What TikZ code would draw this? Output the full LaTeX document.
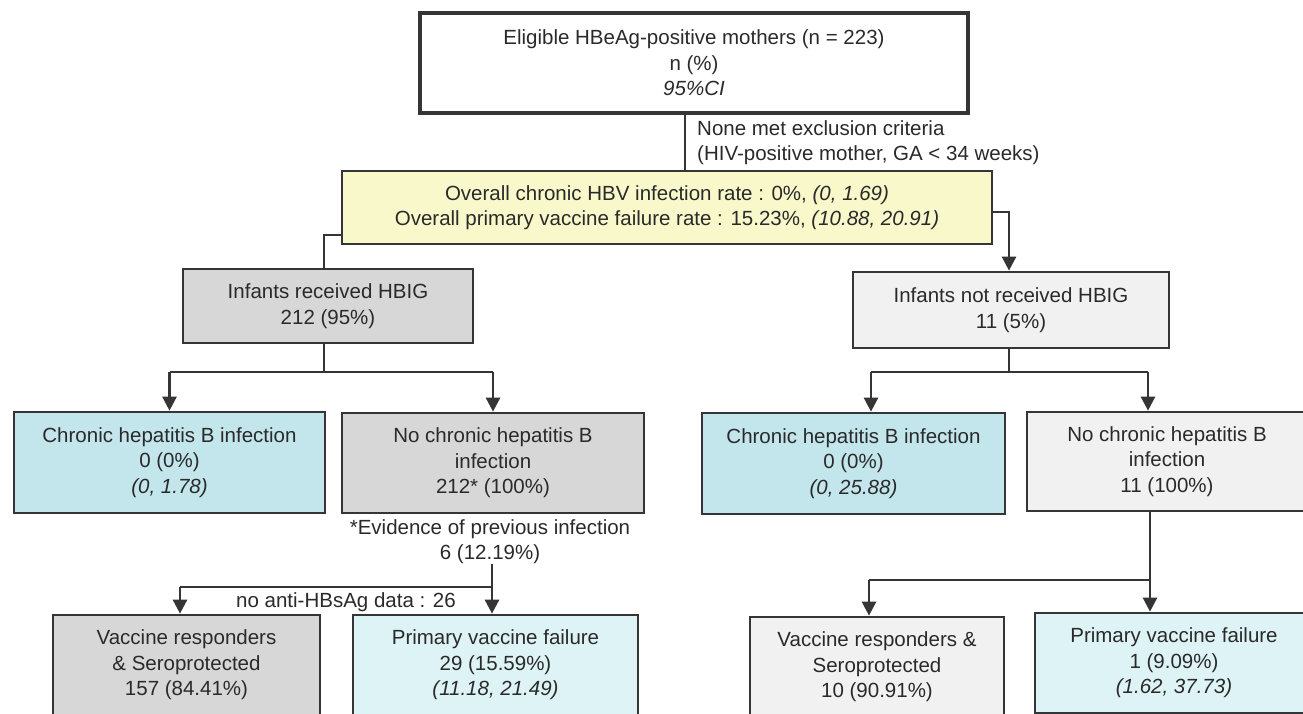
\documentclass[tikz,border=0pt]{standalone}
\usepackage{fontspec}
\setmainfont{Liberation Sans}
\usetikzlibrary{arrows.meta}
\definecolor{bordc}{HTML}{353535}
\definecolor{txtc}{HTML}{2A2A2A}
\definecolor{grayc}{HTML}{D7D7D7}
\definecolor{lgrayc}{HTML}{F1F1F1}
\definecolor{bluec}{HTML}{C2E6EC}
\definecolor{cyanc}{HTML}{DDF3F5}
\definecolor{yelc}{HTML}{F8F8CA}
\begin{document}
\begin{tikzpicture}[x=1pt,y=-1pt,
  font=\fontsize{20.5}{25.5}\selectfont,
  box/.style={draw=bordc, line width=2.7pt, align=center, inner sep=0pt, text=txtc},
  conn/.style={draw=bordc, line width=2.6pt},
  arr/.style={draw=bordc, line width=2.6pt, -{Triangle[width=14pt,length=14pt]}},
  plain/.style={inner sep=0pt, text=txtc}]
\useasboundingbox (0,0) rectangle (1303,714);
\clip (0,0) rectangle (1303,714);
\fill[white] (0,0) rectangle (1303,714);

% boxes
\node[box, fill=white, line width=3.2pt, minimum width=548pt, minimum height=100pt] (top) at (694,63)
  {Eligible HBeAg-positive mothers (n = 223)\\ n (\%)\\ \textit{95\%CI}};
\node[plain, anchor=west, align=left] (excl) at (697,142.5)
  {None met exclusion criteria\\(HIV-positive mother, GA < 34 weeks)};
\node[box, fill=yelc, minimum width=650pt, minimum height=73pt] (yel) at (667,207.5)
  {Overall chronic HBV infection rate : 0\%, \textit{(0, 1.69)}\\
   Overall primary vaccine failure rate : 15.23\%, \textit{(10.88, 20.91)}};
\node[box, fill=grayc, minimum width=290pt, minimum height=74pt] (rec) at (328,306)
  {Infants received HBIG\\212 (95\%)};
\node[box, fill=lgrayc, minimum width=316pt, minimum height=76pt] (notrec) at (1011,310)
  {Infants not received HBIG\\11 (5\%)};
\node[box, fill=bluec, minimum width=311pt, minimum height=101pt] (chrL) at (169.5,462.5)
  {Chronic hepatitis B infection\\0 (0\%)\\\textit{(0, 1.78)}};
\node[box, fill=grayc, minimum width=302pt, minimum height=100pt] (nochL) at (493,463)
  {No chronic hepatitis B\\infection\\212* (100\%)};
\node[box, fill=bluec, minimum width=303pt, minimum height=101pt] (chrR) at (853.5,463.5)
  {Chronic hepatitis B infection\\0 (0\%)\\\textit{(0, 25.88)}};
\node[box, fill=lgrayc, minimum width=280pt, minimum height=99pt] (nochR) at (1167,461.5)
  {No chronic hepatitis B\\infection\\11 (100\%)};
\node[plain, align=center] (evid) at (490,541.5)
  {*Evidence of previous infection\\6 (12.19\%)};
\node[plain] (nodata) at (346,602) {no anti-HBsAg data : 26};
\node[box, fill=grayc, minimum width=267pt, minimum height=100pt] (vrL) at (186.5,665)
  {Vaccine responders\\\& Seroprotected\\157 (84.41\%)};
\node[box, fill=cyanc, minimum width=285pt, minimum height=100pt] (pvfL) at (495.5,665)
  {Primary vaccine failure\\29 (15.59\%)\\\textit{(11.18, 21.49)}};
\node[box, fill=lgrayc, minimum width=254pt, minimum height=100pt] (vrR) at (877,667)
  {Vaccine responders \&\\Seroprotected\\10 (90.91\%)};
\node[box, fill=cyanc, minimum width=278pt, minimum height=100pt] (pvfR) at (1174,663)
  {Primary vaccine failure\\1 (9.09\%)\\\textit{(1.62, 37.73)}};

% connectors
\coordinate (ya) at (685,0);
\draw[conn] (ya |- top.south) -- (ya |- yel.north);
\coordinate (yl) at (324,235);
\draw[conn] (yel.west |- yl) -- (yl) -- (yl |- rec.north);
\coordinate (yr) at (1009,212);
\draw[arr] (yel.east |- yr) -- (yr) -- (yr |- notrec.north);

\coordinate (bl) at (324,372);
\coordinate (bll) at (169.5,372);
\coordinate (blr) at (493,372);
\draw[conn] (bl |- rec.south) -- (bl);
\draw[conn] (bll) -- (blr);
\draw[arr] (bll) -- (chrL.north);
\draw[arr] (blr) -- (nochL.north);

\coordinate (el) at (492,587);
\coordinate (vl) at (180,587);
\draw[arr] (el |- evid.south) -- (el |- pvfL.north);
\draw[conn] (el) -- (vl);
\draw[arr] (vl) -- (vl |- vrL.north);

\coordinate (brc) at (1009,372);
\coordinate (brl) at (871,372);
\coordinate (brr) at (1148,372);
\draw[conn] (brc |- notrec.south) -- (brc);
\draw[conn] (brl) -- (brr);
\draw[arr] (brl) -- (brl |- chrR.north);
\draw[arr] (brr) -- (brr |- nochR.north);

\coordinate (lr) at (1150,580);
\coordinate (ll) at (869,580);
\draw[arr] (lr |- nochR.south) -- (lr |- pvfR.north);
\draw[conn] (lr) -- (ll);
\draw[arr] (ll) -- (ll |- vrR.north);
\end{tikzpicture}
\end{document}
